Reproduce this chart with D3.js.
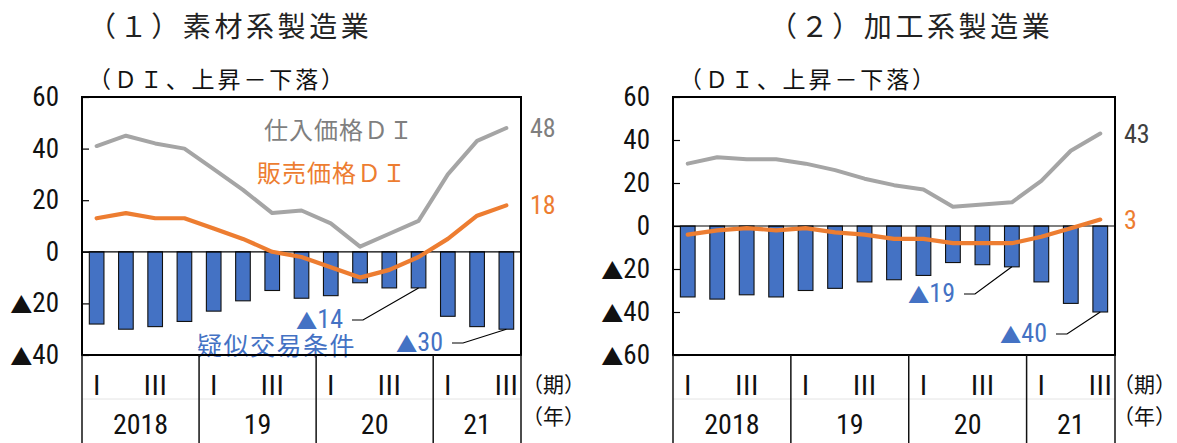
<!DOCTYPE html>
<html>
<head>
<meta charset="utf-8">
<script src="https://cdn.jsdelivr.net/npm/d3@7"></script>
<style>
  html, body { margin: 0; padding: 0; background: #fff; }
  svg { display: block; }
  .cjk { font-family: "Noto Sans CJK JP", "Noto Sans", sans-serif; }
  .num { font-family: "Liberation Sans Narrow", "Arial Narrow", "Roboto Condensed", "Liberation Sans", sans-serif; }
  .tri { font-family: "Noto Sans CJK JP", sans-serif; }
</style>
</head>
<body>
<svg id="chart" width="1177" height="443"></svg>
<script>
// Quarters from 2018 Q1 to 2021 Q3
const categories = ["2018Q1","2018Q2","2018Q3","2018Q4","2019Q1","2019Q2","2019Q3","2019Q4",
                    "2020Q1","2020Q2","2020Q3","2020Q4","2021Q1","2021Q2","2021Q3"];
const years = ["2018","19","20","21"];
const yearQuarters = [4, 4, 4, 3];
const quarterLabels = ["Ⅰ", "", "Ⅲ", ""];

// (1) materials manufacturing
const materialsTerms  = [-28,-30,-29,-27,-23,-19,-15,-18,-17,-12,-14,-14,-25,-29,-30];
const materialsInput  = [41,45,42,40,32,24,15,16,11,2,7,12,30,43,48];
const materialsOutput = [13,15,13,13,9,5,0,-2,-6,-10,-7,-2,5,14,18];
const materialsTicks  = [60,40,20,0,-20,-40];

// (2) processing manufacturing
const processingTerms  = [-33,-34,-32,-33,-30,-29,-26,-25,-23,-17,-18,-19,-26,-36,-40];
const processingInput  = [29,32,31,31,29,26,22,19,17,9,10,11,21,35,43];
const processingOutput = [-4,-2,-1,-2,-1,-3,-4,-6,-6,-8,-8,-8,-5,-1,3];
const processingTicks  = [60,40,20,0,-20,-40,-60];

const COLORS = { bar: "#4472C4", input: "#A5A5A5", output: "#ED7D31", inputText: "#7F7F7F" };

const svg = d3.select("#chart");

// negative values are written with a leading triangle
function writeValue(sel, v) {
  if (v < 0) {
    sel.append("tspan").attr("class", "tri").attr("font-size", "0.82em").text("▲");
    sel.append("tspan").text(Math.abs(v));
  } else {
    sel.text(String(v));
  }
}

function drawPanel(p) {
  const g = svg.append("g");
  const x = d3.scaleBand().domain(categories).range([p.x0, p.x1]).paddingInner(0.5).paddingOuter(0.25);
  const xc = c => x(c) + x.bandwidth() / 2;
  const y = d3.scaleLinear().domain([d3.min(p.ticks), d3.max(p.ticks)]).range([p.y1, p.y0]);

  // title and unit
  g.append("text").attr("class", "cjk").attr("x", p.titleX).attr("y", 25)
    .attr("dominant-baseline", "central").attr("font-size", 28).style("letter-spacing", "3.6px")
    .attr("fill", "#222").text(p.title);
  g.append("text").attr("class", "cjk").attr("x", p.x0 + 6).attr("y", 78)
    .attr("dominant-baseline", "central").attr("font-size", 23).style("letter-spacing", "2.9px")
    .attr("fill", "#111").text("（ＤＩ、上昇－下落）");

  // bars
  g.append("g").selectAll("rect").data(p.terms).join("rect")
    .attr("x", (d, i) => x(categories[i]))
    .attr("width", x.bandwidth())
    .attr("y", d => y(Math.max(0, d)))
    .attr("height", d => Math.abs(y(d) - y(0)))
    .attr("fill", COLORS.bar).attr("stroke", "#111").attr("stroke-width", 1.1);

  // zero line
  g.append("line").attr("x1", p.x0).attr("x2", p.x1).attr("y1", y(0)).attr("y2", y(0))
    .attr("stroke", "#000").attr("stroke-width", 1.2);

  // inner ticks on the left axis
  const yAxis = d3.axisRight(y).tickValues(p.ticks).tickSize(7).tickFormat("");
  const ax = g.append("g").attr("transform", `translate(${p.x0},0)`).call(yAxis);
  ax.select(".domain").remove();
  ax.selectAll("line").attr("stroke", "#000").attr("stroke-width", 1.2);

  // tick labels
  g.append("g").selectAll("text").data(p.ticks).join("text")
    .attr("class", "num").attr("x", p.x0 - 23).attr("y", d => y(d))
    .attr("text-anchor", "end").attr("dominant-baseline", "central")
    .attr("font-size", 27).attr("fill", "#111")
    .each(function (d) { writeValue(d3.select(this), d); });

  // lines
  const line = d3.line().x((d, i) => xc(categories[i])).y(d => y(d));
  g.append("path").datum(p.input).attr("d", line).attr("fill", "none")
    .attr("stroke", COLORS.input).attr("stroke-width", 4).attr("stroke-linejoin", "round").attr("stroke-linecap", "round");
  g.append("path").datum(p.output).attr("d", line).attr("fill", "none")
    .attr("stroke", COLORS.output).attr("stroke-width", 4.2).attr("stroke-linejoin", "round").attr("stroke-linecap", "round");

  // end-value labels
  const last = categories.length - 1;
  g.append("text").attr("class", "num").attr("x", p.x1 + 9).attr("y", y(p.input[last]))
    .attr("dominant-baseline", "central").attr("font-size", 26).attr("fill", p.endInputColor)
    .call(writeValue, p.input[last]);
  g.append("text").attr("class", "num").attr("x", p.x1 + 9).attr("y", y(p.output[last]))
    .attr("dominant-baseline", "central").attr("font-size", 26).attr("fill", COLORS.output)
    .call(writeValue, p.output[last]);

  // series names
  (p.names || []).forEach(n => {
    g.append("text").attr("class", "cjk").attr("x", n.x).attr("y", n.y)
      .attr("dominant-baseline", "central").attr("font-size", n.size).style("letter-spacing", n.ls + "px")
      .attr("fill", n.color).text(n.text);
  });

  // bar callouts
  p.callouts.forEach(c => {
    const v = p.terms[c.index];
    const bx = xc(categories[c.index]), by = y(v);
    g.append("text").attr("class", "num").attr("x", c.tx).attr("y", c.ty)
      .attr("text-anchor", "end").attr("dominant-baseline", "central")
      .attr("font-size", 26).attr("fill", COLORS.bar).call(writeValue, v);
    g.append("path")
      .attr("d", d3.line()([[c.tx + 9, c.ty + 1], [c.tx + 20, c.ty + 1], [bx, by]]))
      .attr("fill", "none").attr("stroke", "#000").attr("stroke-width", 1.2);
  });

  // plot frame
  g.append("rect").attr("x", p.x0).attr("y", p.y0).attr("width", p.x1 - p.x0).attr("height", p.y1 - p.y0)
    .attr("fill", "none").attr("stroke", "#000").attr("stroke-width", 2);

  // period / year table below the plot
  const tb = g.append("g");
  tb.append("line").attr("x1", p.x0).attr("x2", p.x1).attr("y1", 399).attr("y2", 399)
    .attr("stroke", "#e4e4e4").attr("stroke-width", 1);
  let start = 0;
  const bounds = [p.x0];
  years.forEach((yr, k) => {
    const n = yearQuarters[k];
    const first = categories[start], lastC = categories[start + n - 1];
    const left = k === 0 ? p.x0 : x(first) - x.step() * x.paddingInner() / 2;
    const right = k === years.length - 1 ? p.x1 : x(lastC) + x.bandwidth() + x.step() * x.paddingInner() / 2;
    bounds.push(right);
    for (let q = 0; q < n; q++) {
      const lab = quarterLabels[q];
      if (!lab) continue;
      tb.append("text").attr("class", "cjk").attr("x", xc(categories[start + q])).attr("y", 383)
        .attr("text-anchor", "middle").attr("dominant-baseline", "central")
        .attr("font-size", 27).attr("fill", "#111").text(lab);
    }
    tb.append("text").attr("class", "num").attr("x", (left + right) / 2).attr("y", 424)
      .attr("text-anchor", "middle").attr("dominant-baseline", "central")
      .attr("font-size", 28).attr("fill", "#111").text(yr);
    start += n;
  });
  bounds.forEach(bx => {
    tb.append("line").attr("x1", bx).attr("x2", bx).attr("y1", p.y1).attr("y2", 443)
      .attr("stroke", "#111").attr("stroke-width", 1.5);
  });
  tb.append("text").attr("class", "cjk").attr("x", p.unitX).attr("y", 383)
    .attr("dominant-baseline", "central").attr("font-size", 21).attr("fill", "#111").text("（期）");
  tb.append("text").attr("class", "cjk").attr("x", p.unitX).attr("y", 415)
    .attr("dominant-baseline", "central").attr("font-size", 21).attr("fill", "#111").text("（年）");
}

drawPanel({
  title: "（１）素材系製造業", titleX: 88,
  x0: 82, x1: 521, y0: 97, y1: 355, unitX: 522,
  ticks: materialsTicks, terms: materialsTerms, input: materialsInput, output: materialsOutput,
  endInputColor: COLORS.inputText,
  names: [
    { text: "仕入価格ＤＩ", x: 264, y: 128, size: 24, ls: 1, color: COLORS.inputText },
    { text: "販売価格ＤＩ", x: 257, y: 171, size: 24, ls: 1, color: COLORS.output },
    { text: "疑似交易条件", x: 197, y: 344, size: 25, ls: 1.5, color: COLORS.bar }
  ],
  callouts: [ { index: 11, tx: 343, ty: 319 }, { index: 14, tx: 443, ty: 342 } ]
});

drawPanel({
  title: "（２）加工系製造業", titleX: 769,
  x0: 673, x1: 1115, y0: 97, y1: 355, unitX: 1113,
  ticks: processingTicks, terms: processingTerms, input: processingInput, output: processingOutput,
  endInputColor: "#404040",
  names: [],
  callouts: [ { index: 11, tx: 955, ty: 293 }, { index: 14, tx: 1047, ty: 333 } ]
});
</script>
</body>
</html>
